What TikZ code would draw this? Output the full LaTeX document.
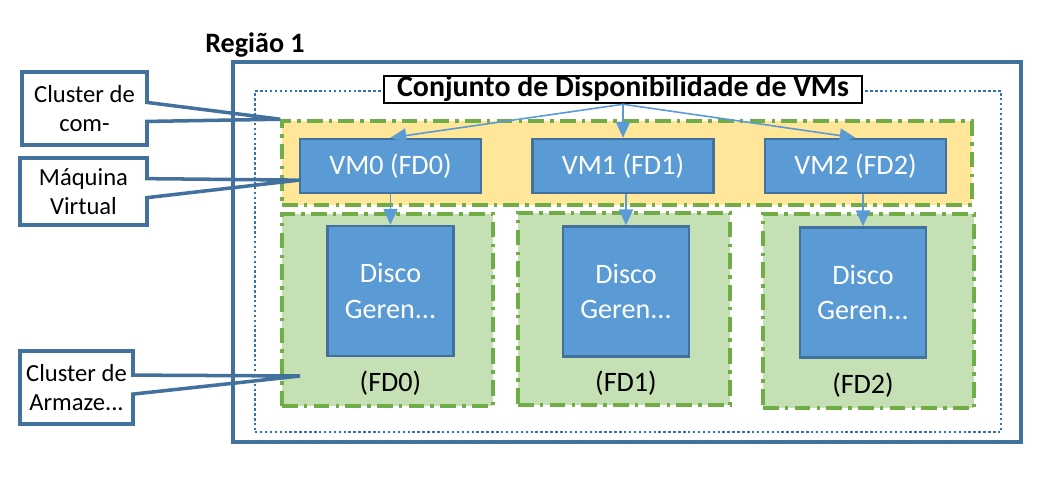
\documentclass[tikz,border=0pt]{standalone}
\usepackage{fontspec}
\setmainfont{Carlito}
\usetikzlibrary{shapes.callouts, arrows.meta, calc}
\definecolor{regionblue}{HTML}{41719C}
\definecolor{dotblue}{HTML}{2E75B6}
\definecolor{vmblue}{HTML}{5B9BD5}
\definecolor{bandyellow}{HTML}{FFE699}
\definecolor{fdgreen}{HTML}{C5E0B4}
\definecolor{edgegreen}{HTML}{70AD47}
\tikzstyle{vm} = [rectangle, draw=regionblue, line width=1.4pt, fill=vmblue, text=white,
minimum width=3.62cm, minimum height=1.08cm, font=\fontsize{16}{19}\selectfont]
\tikzstyle{disk} = [rectangle, draw=regionblue, line width=1.4pt, fill=vmblue, text=white,
align=center, minimum width=2.52cm, minimum height=2.6cm, font=\fontsize{16}{20.4}\selectfont]
\tikzstyle{line} = [draw, vmblue, line width=0.9pt, -{Triangle[length=9pt, width=8pt]}]

\begin{document}
\begin{tikzpicture}[node distance=4.65cm, auto]
                    % Define styles for zones and callouts
                    \tikzstyle{zone} = [rectangle, draw=edgegreen, line width=2pt, dash pattern=on 9pt off 3.5pt on 2pt off 3.5pt, fill=fdgreen, minimum width=4.22cm, minimum height=3.84cm]
                    \tikzstyle{band_zone} = [zone, fill=bandyellow, minimum width=13.8cm, minimum height=1.68cm]  % VM row
                    \tikzstyle{callbox} = [rectangle callout, draw=regionblue, line width=2pt, align=center, callout pointer width=0.38cm, font=\fontsize{14}{16.5}\selectfont]
                    \useasboundingbox (0,0) rectangle (21.16,-9.64);

                    % Place frames
                    \node [draw=regionblue, line width=2.2pt, minimum width=15.76cm, minimum height=7.6cm] (region) at (12.54,-5.04) {};
                    \node [font=\bfseries\fontsize{16}{19}\selectfont] (region_label) at (5.1,-0.9) {Região 1};
                    \node [draw=dotblue, line width=1.6pt, dash pattern=on 1.4pt off 1.4pt, minimum width=14.92cm, minimum height=6.82cm] (avail_set) at (12.56,-5.23) {};
                    \node [band_zone] (band) at (12.54,-3.26) {};
                    \node [zone] (zone0) at (7.75,-6.2) {};
                    \node [zone, minimum width=4.24cm] (zone1) at (12.48,-6.18) {};
                    \node [zone, minimum height=3.88cm] (zone2) at (17.37,-6.22) {};
                    \node [draw=black, line width=1.3pt, fill=white, inner sep=0.5pt, text height=11.5pt, text depth=3pt, minimum width=9.56cm, minimum height=0.5cm, font=\bfseries\fontsize{17}{19}\selectfont] (title) at (12.46,-1.79) {Conjunto de Disponibilidade de VMs};

                    % Place nodes
                    \node [vm] (vm0) at (7.81,-3.32) {VM0 (FD0)};
                    \node [vm, right of=vm0] (vm1) {VM1 (FD1)};
                    \node [vm, right of=vm1] (vm2) {VM2 (FD2)};
                    \node [disk, below of=vm0, node distance=2.5cm] (disk0) {Disco\\Geren...};
                    \node [disk, below of=vm1, node distance=2.51cm, xshift=0.06cm] (disk1) {Disco\\Geren...};
                    \node [disk, below of=vm2, node distance=2.53cm, xshift=0.15cm] (disk2) {Disco\\Geren...};
                    \node [below of=disk0, node distance=1.84cm, font=\fontsize{16}{19}\selectfont] (fd0) {(FD0)};
                    \node [below of=disk1, node distance=1.84cm, font=\fontsize{16}{19}\selectfont] (fd1) {(FD1)};
                    \node [below of=disk2, node distance=1.86cm, font=\fontsize{16}{19}\selectfont] (fd2) {(FD2)};

                    % Draw edges
                    \path [line] (title.south) -- (vm0.north);
                    \path [line] (title.south) -- (vm1.north);
                    \path [line] (title.south) -- (vm2.north);
                    \path [line] (disk0.north |- vm0.south) -- (disk0.north);
                    \path [line] (disk1.north |- vm1.south) -- (disk1.north);
                    \path [line] (disk2.north |- vm2.south) -- (disk2.north);

                    % Callouts
                    \coordinate (storage_tip) at (6.0,-7.52);
                    \node [callbox, minimum width=2.5cm, minimum height=1.46cm, callout absolute pointer={(band.north west)}] (note_cluster) at (1.69,-2.17) {Cluster de\\com-};
                    \node [callbox, minimum width=2.54cm, minimum height=1.34cm, callout absolute pointer={($(vm0.west)!0.5!(vm0.south west)$)}] (note_vm) at (1.67,-3.83) {Máquina\\Virtual};
                    \node [callbox, minimum width=2.26cm, minimum height=1.46cm, callout absolute pointer={(storage_tip)}] (note_storage) at (1.53,-7.75) {Cluster de\\Armaze...};
                \end{tikzpicture}
\end{document}
